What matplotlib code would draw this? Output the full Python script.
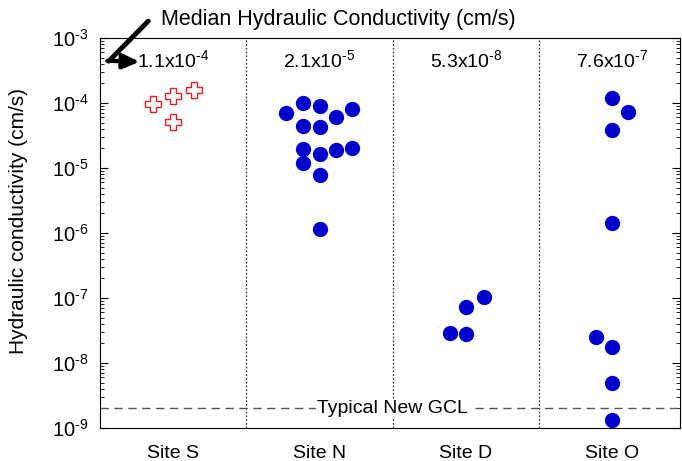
import matplotlib.pyplot as plt
import matplotlib.ticker as mticker
import numpy as np

plt.rcParams['font.family'] = ['Liberation Sans', 'DejaVu Sans']
plt.rcParams['mathtext.fontset'] = 'custom'
plt.rcParams['mathtext.rm'] = 'Liberation Sans'
plt.rcParams['mathtext.it'] = 'Liberation Sans'
plt.rcParams['axes.unicode_minus'] = False

# Datos por sitio
sitios = ['Site S', 'Site N', 'Site D', 'Site O']
medianas = ['1.1x10$^{\\text{-4}}$', '2.1x10$^{\\text{-5}}$',
            '5.3x10$^{\\text{-8}}$', '7.6x10$^{\\text{-7}}$']
decadas = [1e-9, 1e-8, 1e-7, 1e-6, 1e-5, 1e-4, 1e-3]

k_s = [9.5e-5, 1.29e-4, 1.58e-4, 5.1e-5]
dx_s = [-0.14, 0.0, 0.14, 0.0]

k_n = [7.1e-5, 1.0e-4, 8.9e-5, 6.0e-5, 8.0e-5, 4.5e-5, 4.2e-5,
       1.96e-5, 1.64e-5, 1.87e-5, 2.03e-5, 1.18e-5, 7.9e-6, 1.14e-6]
dx_n = [-0.23, -0.11, 0.0, 0.11, 0.22, -0.11, 0.0,
        -0.11, 0.0, 0.11, 0.22, -0.11, 0.0, 0.0]

k_d = [1.05e-7, 7.3e-8, 2.9e-8, 2.83e-8]
dx_d = [0.12, 0.0, -0.11, 0.0]

k_o = [1.2e-4, 7.2e-5, 3.8e-5, 1.45e-6, 2.52e-8, 1.75e-8, 4.9e-9, 1.32e-9]
dx_o = [0.0, 0.11, 0.0, 0.0, -0.11, 0.0, 0.0, 0.0]

gcl_tipico = 2e-9

fig = plt.figure(figsize=(6.82, 4.61), dpi=100)
ax = fig.add_axes([0.1466, 0.0716, 0.85, 0.846])

azul = '#0000CC'
ax.plot(1 + np.array(dx_s), k_s, linestyle='none', marker='P', markersize=12,
        markerfacecolor='white', markeredgecolor='#E02020', markeredgewidth=1.0)
for i, (k, dx) in enumerate([(k_n, dx_n), (k_d, dx_d), (k_o, dx_o)]):
    ax.plot(2 + i + np.array(dx), k, linestyle='none', marker='o', markersize=10,
            color=azul)

ax.set_yscale('log')
ax.set_ylim(1e-9, 1e-3)
ax.set_xlim(0.5, 4.46)
ax.yaxis.set_major_locator(mticker.FixedLocator(decadas))
ax.yaxis.set_major_formatter(mticker.FuncFormatter(
    lambda v, p: '10$^{\\text{%d}}$' % round(np.log10(v))))
ax.yaxis.set_minor_formatter(mticker.NullFormatter())
ax.set_xticks([1, 2, 3, 4])
ax.set_xticklabels(sitios, fontsize=14)
ax.tick_params(axis='x', length=0, pad=12)
ax.tick_params(axis='y', which='both', direction='in', right=True, labelsize=14.5)
ax.tick_params(axis='y', which='major', length=6, pad=8)
ax.tick_params(axis='y', which='minor', length=3, labelleft=False)
ax.set_ylabel('Hydraulic conductivity (cm/s)', fontsize=15)
ax.yaxis.set_label_coords(-0.125, 0.53)

for xv in [1.5, 2.5, 3.5]:
    ax.axvline(xv, color='#333333', linestyle=(0, (1.5, 1.5)), linewidth=0.9)

ax.axhline(gcl_tipico, color='#555555', linestyle=(0, (6, 4)), linewidth=1.0)
ax.text(2.5, gcl_tipico, 'Typical New GCL', ha='center', va='center', fontsize=14,
        bbox=dict(facecolor='white', edgecolor='none', pad=1))

for i, m in enumerate(medianas):
    ax.text(1 + i, 4.6e-4, m, ha='center', va='center', fontsize=14)

# Flecha de la mediana
fig.text(0.236, 0.957, 'Median Hydraulic Conductivity (cm/s)', fontsize=15.5,
         ha='left', va='center')
ax.annotate('', xy=(0.56, 4.4e-4), xytext=(0.83, 1.82e-3),
            xycoords='data', textcoords='data', annotation_clip=False,
            arrowprops=dict(arrowstyle='-', color='black', lw=3.5,
                            shrinkA=0, shrinkB=0))
ax.annotate('', xy=(0.77, 4.3e-4), xytext=(0.55, 4.45e-4),
            xycoords='data', annotation_clip=False,
            arrowprops=dict(arrowstyle='-|>,head_length=1.0,head_width=0.45',
                            color='black', lw=3, shrinkA=0, shrinkB=0))

fig.savefig('out.png', dpi=100)
